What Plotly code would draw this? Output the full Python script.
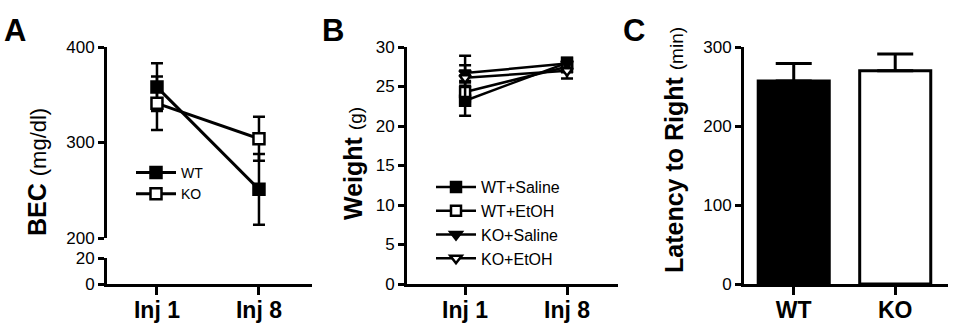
import plotly.graph_objects as go

# ---------------- data ----------------
inj_categories = ["Inj 1", "Inj 8"]

bec_wt = [358, 251]
bec_wt_err = [25, 37]
bec_ko = [341, 304]
bec_ko_err = [28, 23]

weight_wt_saline = [23.2, 28.0]
weight_wt_saline_err = [1.9, 0.6]
weight_wt_etoh = [24.3, 27.5]
weight_wt_etoh_err = [1.2, 0.7]
weight_ko_saline = [26.7, 27.9]
weight_ko_saline_err = [1.0, 0.5]
weight_ko_etoh = [26.1, 27.0]
weight_ko_etoh_err = [2.8, 1.0]

genotypes = ["WT", "KO"]
latency = [257, 270]
latency_err = [22, 21]

bec_upper_ticks = [200, 300, 400]
bec_lower_ticks = [0, 20]
weight_ticks = [0, 5, 10, 15, 20, 25, 30]
latency_ticks = [0, 100, 200, 300]

# ---------------- layout helpers ----------------
W, H = 954, 328
FONT = "Liberation Sans, Arial, sans-serif"


def px_x(p):
    return p / W


def px_y(p):
    return 1 - p / H


axis_common = dict(
    showline=True, linecolor="black", linewidth=3,
    ticks="outside", ticklen=6, tickwidth=3, tickcolor="black",
    showgrid=False, zeroline=False, automargin=False,
    tickfont=dict(family=FONT, size=17, color="black"),
)
xcat_common = dict(axis_common)
xcat_common.update(type="category", ticklen=8, ticklabelstandoff=-5,
                   tickfont=dict(family=FONT, size=23, color="black", weight="bold"))

fig = go.Figure()


def line_trace(y, err, name, symbol, fill, xa, ya, legend, lw=3, size=11):
    return go.Scatter(
        x=inj_categories, y=y, name=name, xaxis=xa, yaxis=ya, legend=legend,
        mode="lines+markers",
        line=dict(color="black", width=lw),
        marker=dict(symbol=symbol, size=size, color=fill,
                    line=dict(color="black", width=2.5)),
        error_y=dict(type="data", array=err, color="black",
                     thickness=2.5, width=6),
        cliponaxis=False,
    )


# Panel A
fig.add_trace(line_trace(bec_wt, bec_wt_err, "WT", "square", "black", "x", "y", "legend"))
fig.add_trace(line_trace(bec_ko, bec_ko_err, "KO", "square", "white", "x", "y", "legend"))
# invisible trace to hold the lower (0-20) segment of the broken axis
fig.add_trace(go.Scatter(x=inj_categories, y=[None, None], xaxis="x", yaxis="y2",
                         showlegend=False, hoverinfo="skip", mode="markers"))

# Panel B
fig.add_trace(line_trace(weight_wt_saline, weight_wt_saline_err, "WT+Saline", "square",
                         "black", "x3", "y3", "legend2", lw=2.5, size=10))
fig.add_trace(line_trace(weight_wt_etoh, weight_wt_etoh_err, "WT+EtOH", "square",
                         "white", "x3", "y3", "legend2", lw=2.5, size=10))
fig.add_trace(line_trace(weight_ko_saline, weight_ko_saline_err, "KO+Saline", "triangle-down",
                         "black", "x3", "y3", "legend2", lw=2.5, size=10))
fig.add_trace(line_trace(weight_ko_etoh, weight_ko_etoh_err, "KO+EtOH", "triangle-down",
                         "white", "x3", "y3", "legend2", lw=2.5, size=10))

# Panel C
fig.add_trace(go.Bar(
    x=genotypes, y=latency, xaxis="x4", yaxis="y4", width=0.7, showlegend=False,
    marker=dict(color=["black", "white"], line=dict(color="black", width=3)),
    error_y=dict(type="data", array=latency_err, arrayminus=[0, 0], symmetric=False,
                 color="black", thickness=3, width=18),
))

dom_y_full = [px_y(284), px_y(47)]

fig.update_layout(
    width=W, height=H,
    margin=dict(l=0, r=0, t=0, b=0),
    paper_bgcolor="white", plot_bgcolor="white",
    font=dict(family=FONT, color="black"),
    showlegend=True,
    xaxis=dict(xcat_common, domain=[px_x(107), px_x(312)], anchor="y2",
               range=[-0.49, 1.52]),
    yaxis=dict(axis_common, domain=[px_y(238), px_y(47)], anchor="x",
               range=[200, 400], tickvals=bec_upper_ticks),
    yaxis2=dict(axis_common, domain=[px_y(284), px_y(258)], anchor="x",
                range=[0, 20], tickvals=bec_lower_ticks),
    xaxis3=dict(xcat_common, domain=[px_x(407), px_x(618)], anchor="y3",
                range=[-0.57, 1.5]),
    yaxis3=dict(axis_common, domain=dom_y_full, anchor="x3",
                range=[0, 30], tickvals=weight_ticks),
    xaxis4=dict(xcat_common, domain=[px_x(744), px_x(948)], anchor="y4",
                range=[-0.49, 1.52]),
    yaxis4=dict(axis_common, domain=dom_y_full, anchor="x4",
                range=[0, 300], tickvals=latency_ticks),
    legend=dict(x=px_x(131), y=px_y(157), xanchor="left", yanchor="top",
                bgcolor="rgba(0,0,0,0)", borderwidth=0, itemwidth=40,
                font=dict(family=FONT, size=14, color="black")),
    legend2=dict(x=px_x(431), y=px_y(170), xanchor="left", yanchor="top",
                 bgcolor="rgba(0,0,0,0)", borderwidth=0, itemwidth=40,
                 font=dict(family=FONT, size=16, color="black")),
)

annotations = [
    dict(text="<b>A</b>", x=px_x(15), y=px_y(31), font=dict(size=31)),
    dict(text="<b>B</b>", x=px_x(333), y=px_y(31), font=dict(size=31)),
    dict(text="<b>C</b>", x=px_x(634), y=px_y(31), font=dict(size=31)),
    dict(text="<b>BEC</b> <span style='font-size:22px'>(mg/dl)</span>",
         x=px_x(37), y=px_y(172), textangle=-90, font=dict(size=25)),
    dict(text="<b>Weight</b> <span style='font-size:19px'>(g)</span>",
         x=px_x(353), y=px_y(164), textangle=-90, font=dict(size=25)),
    dict(text="<b>Latency to Right</b> <span style='font-size:19px'>(min)</span>",
         x=px_x(674), y=px_y(150), textangle=-90, font=dict(size=25)),
]
for a in annotations:
    a.update(xref="paper", yref="paper", xanchor="center", yanchor="middle",
             showarrow=False)
    a["font"] = dict(family=FONT, color="black", **a["font"])
fig.update_layout(annotations=annotations)

# remove the browser's default page margin so the figure sits at the window origin
fig.write_html("out.html",
               config={"displayModeBar": False},
               post_script="document.body.style.margin='0';document.body.style.padding='0';")
